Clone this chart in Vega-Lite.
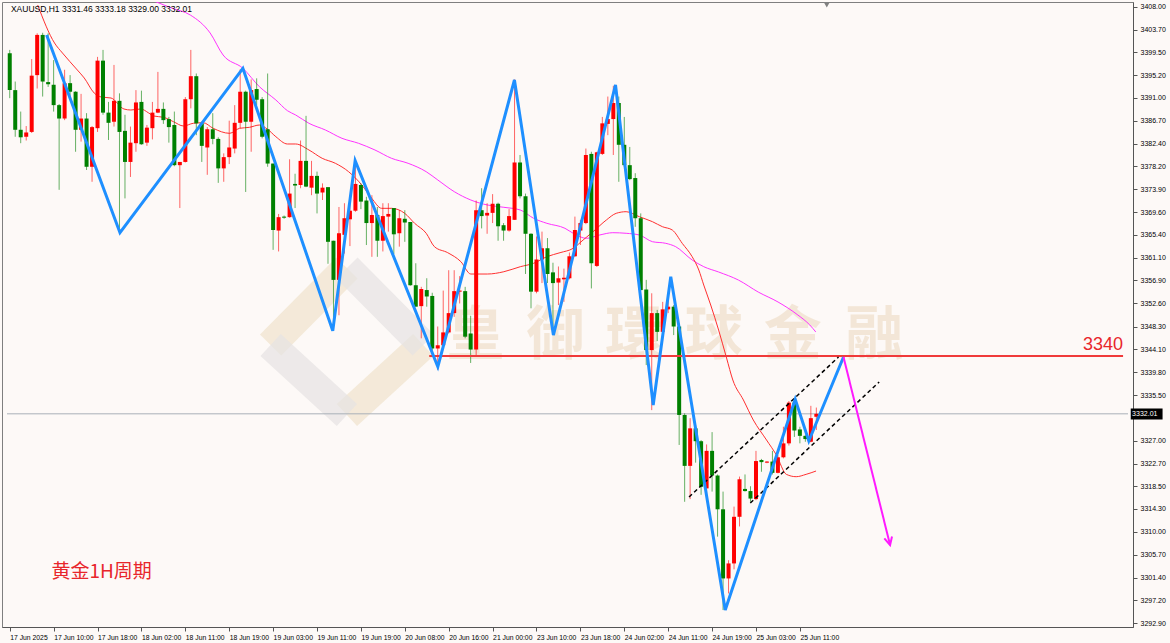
{
"$schema": "https://vega.github.io/schema/vega-lite/v6.json",
"width": 1131, "height": 625, "autosize": "none",
"padding": {"left": 2, "top": 2, "right": 37, "bottom": 16},
"background": "#fdf9f7",
"config": {"view": {"stroke": "#7f7f7f", "strokeWidth": 1}, "axis": {"domainColor": "#555555", "tickColor": "#555555", "labelColor": "#000000", "grid": false}},
"datasets": {
"candles": [
{"i":0,"o":3399.3,"h":3399.9,"l":3390.9,"c":3392.4},
{"i":1,"o":3392.4,"h":3394.0,"l":3383.7,"c":3385.0},
{"i":2,"o":3385.0,"h":3388.4,"l":3382.5,"c":3383.6},
{"i":3,"o":3383.7,"h":3385.7,"l":3383.0,"c":3384.5},
{"i":4,"o":3384.6,"h":3398.2,"l":3384.4,"c":3395.1},
{"i":5,"o":3395.2,"h":3403.0,"l":3392.7,"c":3402.7},
{"i":6,"o":3402.7,"h":3403.1,"l":3391.2,"c":3394.0},
{"i":7,"o":3393.9,"h":3403.0,"l":3393.0,"c":3393.5},
{"i":8,"o":3393.4,"h":3398.0,"l":3388.4,"c":3389.6},
{"i":9,"o":3389.6,"h":3389.8,"l":3373.8,"c":3387.1},
{"i":10,"o":3387.1,"h":3396.2,"l":3386.8,"c":3393.7},
{"i":11,"o":3393.7,"h":3395.2,"l":3390.6,"c":3392.1},
{"i":12,"o":3392.1,"h":3392.2,"l":3380.9,"c":3385.0},
{"i":13,"o":3385.0,"h":3391.7,"l":3382.8,"c":3387.1},
{"i":14,"o":3387.1,"h":3388.1,"l":3377.5,"c":3378.1},
{"i":15,"o":3378.1,"h":3385.7,"l":3375.3,"c":3385.5},
{"i":16,"o":3385.3,"h":3398.6,"l":3384.6,"c":3397.9},
{"i":17,"o":3397.9,"h":3399.9,"l":3387.8,"c":3388.2},
{"i":18,"o":3388.2,"h":3390.2,"l":3383.1,"c":3386.3},
{"i":19,"o":3386.5,"h":3397.1,"l":3385.6,"c":3390.4},
{"i":20,"o":3390.4,"h":3391.8,"l":3366.3,"c":3384.6},
{"i":21,"o":3384.8,"h":3387.8,"l":3372.2,"c":3379.0},
{"i":22,"o":3379.0,"h":3385.6,"l":3376.2,"c":3382.6},
{"i":23,"o":3382.5,"h":3392.4,"l":3380.9,"c":3390.1},
{"i":24,"o":3390.2,"h":3392.3,"l":3382.2,"c":3382.3},
{"i":25,"o":3382.6,"h":3385.9,"l":3382.0,"c":3385.4},
{"i":26,"o":3385.3,"h":3390.2,"l":3383.2,"c":3388.2},
{"i":27,"o":3388.2,"h":3395.8,"l":3388.1,"c":3388.9},
{"i":28,"o":3388.9,"h":3390.1,"l":3386.1,"c":3386.8},
{"i":29,"o":3387.0,"h":3387.4,"l":3382.6,"c":3385.5},
{"i":30,"o":3385.9,"h":3388.4,"l":3378.2,"c":3378.4},
{"i":31,"o":3378.4,"h":3379.0,"l":3370.4,"c":3379.0},
{"i":32,"o":3379.0,"h":3391.1,"l":3378.9,"c":3390.7},
{"i":33,"o":3390.7,"h":3399.9,"l":3389.0,"c":3395.0},
{"i":34,"o":3395.0,"h":3395.5,"l":3384.0,"c":3386.2},
{"i":35,"o":3386.2,"h":3386.5,"l":3379.0,"c":3382.0},
{"i":36,"o":3381.7,"h":3385.5,"l":3376.6,"c":3385.1},
{"i":37,"o":3385.1,"h":3388.1,"l":3382.3,"c":3383.3},
{"i":38,"o":3383.3,"h":3383.6,"l":3375.1,"c":3377.8},
{"i":39,"o":3377.8,"h":3380.6,"l":3375.3,"c":3379.9},
{"i":40,"o":3379.9,"h":3386.7,"l":3378.6,"c":3381.7},
{"i":41,"o":3381.5,"h":3389.6,"l":3380.6,"c":3386.3},
{"i":42,"o":3386.3,"h":3396.3,"l":3385.3,"c":3392.1},
{"i":43,"o":3392.1,"h":3392.3,"l":3373.4,"c":3386.5},
{"i":44,"o":3386.5,"h":3394.4,"l":3380.9,"c":3392.4},
{"i":45,"o":3392.6,"h":3394.6,"l":3389.6,"c":3390.6},
{"i":46,"o":3390.7,"h":3391.1,"l":3383.4,"c":3383.7},
{"i":47,"o":3385.1,"h":3395.5,"l":3378.1,"c":3378.7},
{"i":48,"o":3378.7,"h":3378.7,"l":3362.6,"c":3366.3},
{"i":49,"o":3366.2,"h":3369.3,"l":3362.3,"c":3368.7},
{"i":50,"o":3368.8,"h":3369.0,"l":3368.4,"c":3368.6},
{"i":51,"o":3368.7,"h":3379.5,"l":3368.6,"c":3373.1},
{"i":52,"o":3374.9,"h":3376.8,"l":3370.4,"c":3374.6},
{"i":53,"o":3374.7,"h":3383.0,"l":3374.1,"c":3379.2},
{"i":54,"o":3379.2,"h":3387.6,"l":3374.3,"c":3374.4},
{"i":55,"o":3374.2,"h":3379.2,"l":3372.8,"c":3376.4},
{"i":56,"o":3376.4,"h":3377.2,"l":3369.4,"c":3373.1},
{"i":57,"o":3373.3,"h":3375.0,"l":3371.9,"c":3374.2},
{"i":58,"o":3374.3,"h":3374.3,"l":3360.0,"c":3364.1},
{"i":59,"o":3364.3,"h":3364.3,"l":3347.6,"c":3357.0},
{"i":60,"o":3357.0,"h":3370.6,"l":3350.4,"c":3365.7},
{"i":61,"o":3365.4,"h":3371.3,"l":3361.9,"c":3368.5},
{"i":62,"o":3368.3,"h":3372.5,"l":3363.3,"c":3369.9},
{"i":63,"o":3369.9,"h":3379.4,"l":3369.7,"c":3374.9},
{"i":64,"o":3374.7,"h":3375.0,"l":3370.2,"c":3371.6},
{"i":65,"o":3371.8,"h":3372.5,"l":3363.5,"c":3367.6},
{"i":66,"o":3367.6,"h":3372.8,"l":3361.3,"c":3369.1},
{"i":67,"o":3369.1,"h":3370.6,"l":3361.3,"c":3364.3},
{"i":68,"o":3364.3,"h":3371.3,"l":3362.3,"c":3368.9},
{"i":69,"o":3368.8,"h":3371.3,"l":3366.0,"c":3369.3},
{"i":70,"o":3370.4,"h":3370.4,"l":3361.8,"c":3365.5},
{"i":71,"o":3365.7,"h":3370.0,"l":3363.2,"c":3368.5},
{"i":72,"o":3368.4,"h":3370.0,"l":3364.1,"c":3367.7},
{"i":73,"o":3367.8,"h":3367.8,"l":3355.9,"c":3356.0},
{"i":74,"o":3356.0,"h":3360.1,"l":3352.0,"c":3352.0},
{"i":75,"o":3352.1,"h":3355.7,"l":3346.1,"c":3355.3},
{"i":76,"o":3355.1,"h":3357.3,"l":3352.0,"c":3353.9},
{"i":77,"o":3354.0,"h":3354.6,"l":3343.8,"c":3344.2},
{"i":78,"o":3344.2,"h":3348.3,"l":3340.2,"c":3344.8},
{"i":79,"o":3344.8,"h":3355.0,"l":3344.5,"c":3347.2},
{"i":80,"o":3347.2,"h":3358.8,"l":3347.0,"c":3350.8},
{"i":81,"o":3350.8,"h":3358.8,"l":3350.1,"c":3354.9},
{"i":82,"o":3354.8,"h":3357.7,"l":3352.6,"c":3355.0},
{"i":83,"o":3354.9,"h":3355.7,"l":3346.1,"c":3346.4},
{"i":84,"o":3347.0,"h":3350.3,"l":3341.5,"c":3344.0},
{"i":85,"o":3344.0,"h":3371.8,"l":3342.8,"c":3370.0},
{"i":86,"o":3370.0,"h":3374.1,"l":3366.6,"c":3368.9},
{"i":87,"o":3369.0,"h":3371.3,"l":3365.6,"c":3369.5},
{"i":88,"o":3369.5,"h":3373.0,"l":3367.6,"c":3371.2},
{"i":89,"o":3371.2,"h":3371.4,"l":3364.3,"c":3367.0},
{"i":90,"o":3367.2,"h":3367.6,"l":3364.3,"c":3366.2},
{"i":91,"o":3366.2,"h":3370.2,"l":3366.0,"c":3368.9},
{"i":92,"o":3368.2,"h":3394.4,"l":3368.2,"c":3378.9},
{"i":93,"o":3378.9,"h":3380.3,"l":3372.2,"c":3372.6},
{"i":94,"o":3372.6,"h":3373.1,"l":3358.1,"c":3365.6},
{"i":95,"o":3365.6,"h":3365.7,"l":3351.7,"c":3354.8},
{"i":96,"o":3354.8,"h":3365.1,"l":3354.5,"c":3360.8},
{"i":97,"o":3360.8,"h":3366.0,"l":3356.4,"c":3362.9},
{"i":98,"o":3362.9,"h":3364.8,"l":3356.4,"c":3358.1},
{"i":99,"o":3358.4,"h":3360.2,"l":3346.7,"c":3356.4},
{"i":100,"o":3356.5,"h":3359.5,"l":3352.3,"c":3357.3},
{"i":101,"o":3357.1,"h":3359.1,"l":3352.9,"c":3357.4},
{"i":102,"o":3357.3,"h":3362.1,"l":3357.1,"c":3361.4},
{"i":103,"o":3361.4,"h":3368.8,"l":3361.3,"c":3366.3},
{"i":104,"o":3366.2,"h":3368.2,"l":3363.5,"c":3367.6},
{"i":105,"o":3367.6,"h":3381.5,"l":3367.4,"c":3380.3},
{"i":106,"o":3380.5,"h":3380.9,"l":3355.4,"c":3360.1},
{"i":107,"o":3359.6,"h":3380.9,"l":3359.4,"c":3380.8},
{"i":108,"o":3380.5,"h":3387.4,"l":3380.3,"c":3386.2},
{"i":109,"o":3386.1,"h":3391.2,"l":3384.0,"c":3387.0},
{"i":110,"o":3387.0,"h":3393.2,"l":3380.3,"c":3390.0},
{"i":111,"o":3390.0,"h":3391.2,"l":3375.3,"c":3382.2},
{"i":112,"o":3382.2,"h":3387.4,"l":3378.1,"c":3378.4},
{"i":113,"o":3378.4,"h":3381.8,"l":3375.6,"c":3375.8},
{"i":114,"o":3376.0,"h":3376.9,"l":3366.9,"c":3368.5},
{"i":115,"o":3368.5,"h":3369.4,"l":3355.0,"c":3355.1},
{"i":116,"o":3355.2,"h":3357.0,"l":3341.1,"c":3343.9},
{"i":117,"o":3343.9,"h":3354.5,"l":3332.7,"c":3350.8},
{"i":118,"o":3350.8,"h":3351.4,"l":3345.6,"c":3347.3},
{"i":119,"o":3347.3,"h":3352.9,"l":3347.0,"c":3351.5},
{"i":120,"o":3351.5,"h":3353.9,"l":3350.8,"c":3352.0},
{"i":121,"o":3352.0,"h":3352.3,"l":3346.7,"c":3348.3},
{"i":122,"o":3348.3,"h":3348.3,"l":3326.2,"c":3331.8},
{"i":123,"o":3331.8,"h":3332.1,"l":3315.6,"c":3322.3},
{"i":124,"o":3322.3,"h":3331.2,"l":3316.1,"c":3329.3},
{"i":125,"o":3329.3,"h":3329.9,"l":3322.9,"c":3326.9},
{"i":126,"o":3326.9,"h":3327.1,"l":3316.9,"c":3318.4},
{"i":127,"o":3318.1,"h":3326.3,"l":3316.9,"c":3325.1},
{"i":128,"o":3325.1,"h":3328.6,"l":3317.5,"c":3320.5},
{"i":129,"o":3320.5,"h":3320.7,"l":3309.1,"c":3314.2},
{"i":130,"o":3314.2,"h":3317.5,"l":3295.4,"c":3301.3},
{"i":131,"o":3301.3,"h":3304.7,"l":3298.5,"c":3304.1},
{"i":132,"o":3304.1,"h":3314.7,"l":3303.0,"c":3312.8},
{"i":133,"o":3312.8,"h":3320.3,"l":3311.0,"c":3319.8},
{"i":134,"o":3318.0,"h":3320.7,"l":3317.5,"c":3317.6},
{"i":135,"o":3317.6,"h":3318.5,"l":3315.6,"c":3316.2},
{"i":136,"o":3316.1,"h":3325.1,"l":3315.9,"c":3323.2},
{"i":137,"o":3323.4,"h":3323.6,"l":3321.2,"c":3323.0},
{"i":138,"o":3322.9,"h":3323.2,"l":3322.8,"c":3323.1},
{"i":139,"o":3323.1,"h":3325.1,"l":3320.7,"c":3321.0},
{"i":140,"o":3321.0,"h":3324.3,"l":3320.9,"c":3323.9},
{"i":141,"o":3323.9,"h":3329.6,"l":3323.7,"c":3326.5},
{"i":142,"o":3326.5,"h":3334.4,"l":3326.1,"c":3334.1},
{"i":143,"o":3334.1,"h":3334.7,"l":3327.7,"c":3328.9},
{"i":144,"o":3329.1,"h":3329.6,"l":3326.5,"c":3327.9},
{"i":145,"o":3327.9,"h":3328.1,"l":3326.8,"c":3327.3},
{"i":146,"o":3326.8,"h":3333.5,"l":3326.7,"c":3331.2},
{"i":147,"o":3331.46,"h":3333.18,"l":3329.0,"c":3332.01}
],
"maRed": [
{"i":5.09,"p":3408.28},{"i":8.16,"p":3401.19},{"i":9.61,"p":3399.32},{"i":12.32,"p":3396.15},{"i":13.58,"p":3394.66},{"i":15.39,"p":3391.86},{"i":16.65,"p":3391.12},{"i":18.46,"p":3390.93},{"i":20.81,"p":3388.88},{"i":22.07,"p":3388.69},{"i":23.88,"p":3388.88},{"i":25.33,"p":3388.13},{"i":26.23,"p":3387.57},{"i":28.04,"p":3387.33},{"i":29.84,"p":3386.51},{"i":31.65,"p":3385.71},{"i":33.45,"p":3386.21},{"i":35.26,"p":3386.32},{"i":37.07,"p":3385.28},{"i":40.08,"p":3384.34},{"i":41.89,"p":3385.28},{"i":43.7,"p":3385.46},{"i":45.5,"p":3385.89},{"i":47.0,"p":3385.09},{"i":48.5,"p":3383.71},{"i":50.61,"p":3382.35},{"i":52.11,"p":3382.35},{"i":54.53,"p":3381.23},{"i":56.94,"p":3379.68},{"i":59.34,"p":3378.75},{"i":61.76,"p":3377.18},{"i":64.16,"p":3374.7},{"i":65.97,"p":3372.22},{"i":67.77,"p":3370.35},{"i":69.58,"p":3370.35},{"i":71.98,"p":3369.42},{"i":73.79,"p":3367.55},{"i":75.9,"p":3365.69},{"i":77.4,"p":3363.19},{"i":79.82,"p":3362.07},{"i":82.22,"p":3360.39},{"i":84.03,"p":3358.09},{"i":87.05,"p":3358.09},{"i":90.05,"p":3358.52},{"i":93.06,"p":3359.46},{"i":95.47,"p":3360.09},{"i":97.89,"p":3361.32},{"i":100.29,"p":3362.07},{"i":102.69,"p":3362.89},{"i":104.5,"p":3364.44},{"i":106.31,"p":3365.99},{"i":108.73,"p":3368.17},{"i":110.53,"p":3369.42},{"i":112.34,"p":3369.72},{"i":114.74,"p":3368.78},{"i":117.14,"p":3367.85},{"i":118.95,"p":3366.92},{"i":120.75,"p":3366.3},{"i":122.56,"p":3363.82},{"i":124.37,"p":3361.32},{"i":125.58,"p":3358.84},{"i":126.48,"p":3356.04},{"i":127.75,"p":3352.31},{"i":129.19,"p":3347.64},{"i":130.64,"p":3342.42},{"i":131.78,"p":3338.32},{"i":133.71,"p":3334.59},{"i":135.51,"p":3330.86},{"i":137.92,"p":3327.13},{"i":139.72,"p":3324.32},{"i":141.53,"p":3320.72},{"i":143.33,"p":3320.28},{"i":145.14,"p":3320.72},{"i":146.95,"p":3321.34}
],
"maPink": [
{"i":26.26,"p":3409.03},{"i":29.48,"p":3407.72},{"i":32.91,"p":3406.41},{"i":36.52,"p":3403.06},{"i":38.88,"p":3398.95},{"i":42.49,"p":3396.47},{"i":45.5,"p":3393.04},{"i":48.5,"p":3390.56},{"i":50.61,"p":3388.56},{"i":52.11,"p":3387.76},{"i":54.53,"p":3386.21},{"i":57.53,"p":3384.96},{"i":60.55,"p":3383.41},{"i":63.57,"p":3382.48},{"i":66.56,"p":3381.23},{"i":69.58,"p":3379.68},{"i":72.6,"p":3378.75},{"i":75.9,"p":3377.18},{"i":78.02,"p":3375.63},{"i":81.02,"p":3373.45},{"i":84.03,"p":3371.9},{"i":87.05,"p":3370.97},{"i":90.05,"p":3370.54},{"i":93.06,"p":3370.03},{"i":95.47,"p":3368.49},{"i":97.89,"p":3367.55},{"i":101.19,"p":3366.62},{"i":102.69,"p":3365.69},{"i":105.11,"p":3364.75},{"i":107.51,"p":3365.37},{"i":109.91,"p":3365.8},{"i":112.34,"p":3365.69},{"i":114.74,"p":3365.37},{"i":117.14,"p":3364.12},{"i":119.56,"p":3363.82},{"i":121.37,"p":3363.19},{"i":124.37,"p":3360.71},{"i":126.48,"p":3359.46},{"i":129.19,"p":3358.47},{"i":132.8,"p":3356.97},{"i":136.41,"p":3354.73},{"i":140.02,"p":3352.87},{"i":143.64,"p":3350.44},{"i":145.81,"p":3348.58},{"i":146.9,"p":3347.28}
],
"zigzag": [
{"k":1,"i":6.72,"p":3402.68},{"k":2,"i":20.09,"p":3365.8},{"k":3,"i":42.49,"p":3396.47},{"k":4,"i":58.87,"p":3347.51},{"k":5,"i":62.95,"p":3379.23},{"k":6,"i":78.02,"p":3340.8},{"k":7,"i":91.98,"p":3394.29},{"k":8,"i":99.08,"p":3346.71},{"k":9,"i":110.4,"p":3393.36},{"k":10,"i":117.27,"p":3333.65},{"k":11,"i":120.47,"p":3357.59},{"k":12,"i":130.4,"p":3295.41},{"k":13,"i":143.15,"p":3334.72},{"k":14,"i":145.63,"p":3326.94},{"k":15,"i":151.95,"p":3342.61}
],
"channel": [
{"g":"upper","k":1,"i":123.8,"p":3316.49},{"g":"upper","k":2,"i":151.05,"p":3342.61},
{"g":"lower","k":1,"i":134.97,"p":3315.37},{"g":"lower","k":2,"i":158.45,"p":3337.95}
],
"arrow": [{"k":1,"i":151.95,"p":3342.61},{"k":2,"i":160.44,"p":3307.53}],
"arrowHead": [{"i":160.44,"p":3307.53}],
"level": [{"i":76.45,"i2":202.9,"p":3342.8,"t":"3340"}],
"last": [{"i":-0.5,"i2":203.8,"p":3332.01,"t":"3332.01"}],
"logoBeige": [{"g":"a","i":47.54,"p":3344.85},{"g":"a","i":61.45,"p":3359.21},{"g":"b","i":61.45,"p":3331.79},{"g":"b","i":75.36,"p":3344.85}],
"logoGray": [{"g":"a","i":61.45,"p":3359.21},{"g":"a","i":75.36,"p":3344.85},{"g":"b","i":47.54,"p":3344.85},{"g":"b","i":61.45,"p":3331.79}],
"watermark": [{"i":84.9,"p":3346.3,"t":"皇"},{"i":99.4,"p":3346.3,"t":"御"},{"i":113.8,"p":3346.3,"t":"環"},{"i":128.3,"p":3346.3,"t":"球"},{"i":142.7,"p":3346.3,"t":"金"},{"i":157.6,"p":3346.3,"t":"融"}]
},
"layer": [
{"data": {"name": "candles"}, "mark": {"type": "rule", "strokeWidth": 1, "opacity": 0},
 "encoding": {"x": {"field": "i", "type": "quantitative", "scale": {"domain": [-0.5, 203.8], "nice": false, "zero": false},
   "axis": {"orient": "bottom", "title": null, "values": [0,8,16,24,32,40,48,56,64,72,80,88,96,104,112,120,128,136,144], "tickCount": 40, "labelExpr": "['17 Jun 2025','17 Jun 10:00','17 Jun 18:00','18 Jun 02:00','18 Jun 11:00','18 Jun 19:00','19 Jun 03:00','19 Jun 11:00','19 Jun 19:00','20 Jun 08:00','20 Jun 16:00','21 Jun 00:00','23 Jun 10:00','23 Jun 18:00','24 Jun 02:00','24 Jun 11:00','24 Jun 19:00','25 Jun 03:00','25 Jun 11:00'][round(datum.value/8)]", "labelAlign": "left", "labelFont": "Liberation Sans", "labelFontSize": 6.8, "labelPadding": 3, "tickSize": 4, "labelOverlap": false, "labelFlush": false, "labelBound": false}},
  "y": {"field": "l", "type": "quantitative", "scale": {"domain": [3292.24, 3408.84], "nice": false, "zero": false},
   "axis": {"orient": "right", "title": null, "tickCount": 40, "values": [3408.0,3403.7,3399.5,3395.2,3391.0,3386.7,3382.4,3378.2,3373.9,3369.6,3365.4,3361.1,3356.9,3352.6,3348.3,3344.1,3339.8,3335.5,3327.0,3322.7,3318.5,3314.3,3310.0,3305.7,3301.4,3297.2,3292.9], "format": ".2f", "labelFont": "Liberation Sans", "labelFontSize": 7, "labelPadding": 3, "tickSize": 4, "labelOverlap": false, "labelFlush": false, "labelBound": false}},
  "y2": {"field": "h"}}},
{"data": {"name": "logoBeige"}, "mark": {"type": "line", "strokeWidth": 30, "strokeCap": "butt", "color": "#f0e2cc", "opacity": 0.7},
 "encoding": {"x": {"field": "i", "type": "quantitative"},
  "y": {"field": "p", "type": "quantitative"},
  "detail": {"field": "g"}}},
{"data": {"name": "logoGray"}, "mark": {"type": "line", "strokeWidth": 30, "strokeCap": "butt", "color": "#e6e3e3", "opacity": 0.7},
 "encoding": {"x": {"field": "i", "type": "quantitative"},
  "y": {"field": "p", "type": "quantitative"},
  "detail": {"field": "g"}}},
{"data": {"name": "watermark"}, "mark": {"type": "text", "font": "Noto Sans CJK TC", "fontWeight": "bold", "fontSize": 58, "color": "#ecd8bd", "opacity": 0.55, "align": "center", "baseline": "middle"},
 "encoding": {"x": {"field": "i", "type": "quantitative"},
  "y": {"field": "p", "type": "quantitative"},
  "text": {"field": "t"}}},
{"data": {"name": "last"}, "mark": {"type": "rule", "color": "#a9b0b8", "strokeWidth": 1},
 "encoding": {"x": {"field": "i", "type": "quantitative"},
  "x2": {"field": "i2"},
  "y": {"field": "p", "type": "quantitative"}}},
{"data": {"name": "maPink"}, "mark": {"type": "line", "color": "#ff33ff", "strokeWidth": 1, "clip": true, "interpolate": "monotone"},
 "encoding": {"x": {"field": "i", "type": "quantitative"},
  "y": {"field": "p", "type": "quantitative"}}},
{"data": {"name": "maRed"}, "mark": {"type": "line", "color": "#ff3030", "strokeWidth": 1, "clip": true, "interpolate": "monotone"},
 "encoding": {"x": {"field": "i", "type": "quantitative"},
  "y": {"field": "p", "type": "quantitative"}}},
{"data": {"name": "candles"}, "mark": {"type": "rule", "strokeWidth": 1, "opacity": 0.6},
 "encoding": {"x": {"field": "i", "type": "quantitative"},
  "y": {"field": "l", "type": "quantitative"},
  "y2": {"field": "h"},
  "color": {"condition": {"test": "datum.c >= datum.o", "value": "#ff0000"}, "value": "#008000"}}},
{"data": {"name": "candles"}, "mark": {"type": "bar", "size": 4},
 "encoding": {"x": {"field": "i", "type": "quantitative"},
  "y": {"field": "o", "type": "quantitative"},
  "y2": {"field": "c"},
  "color": {"condition": {"test": "datum.c >= datum.o", "value": "#ff0000"}, "value": "#008000"}}},
{"data": {"name": "level"}, "mark": {"type": "rule", "color": "#f03a3a", "strokeWidth": 2},
 "encoding": {"x": {"field": "i", "type": "quantitative"},
  "x2": {"field": "i2"},
  "y": {"field": "p", "type": "quantitative"}}},
{"data": {"name": "level"}, "mark": {"type": "text", "color": "#e8262b", "fontSize": 18, "font": "Liberation Sans", "align": "right", "baseline": "bottom", "dy": -2},
 "encoding": {"x": {"field": "i2", "type": "quantitative"},
  "y": {"field": "p", "type": "quantitative"},
  "text": {"field": "t"}}},
{"data": {"name": "channel"}, "mark": {"type": "line", "color": "#000000", "strokeWidth": 1.5, "strokeDash": [4, 3]},
 "encoding": {"x": {"field": "i", "type": "quantitative"},
  "y": {"field": "p", "type": "quantitative"},
  "detail": {"field": "g"}, "order": {"field": "k"}}},
{"data": {"name": "zigzag"}, "mark": {"type": "line", "color": "#1e8fff", "strokeWidth": 3},
 "encoding": {"x": {"field": "i", "type": "quantitative"},
  "y": {"field": "p", "type": "quantitative"},
  "order": {"field": "k"}}},
{"data": {"name": "arrow"}, "mark": {"type": "line", "color": "#ff1aff", "strokeWidth": 2},
 "encoding": {"x": {"field": "i", "type": "quantitative"},
  "y": {"field": "p", "type": "quantitative"},
  "order": {"field": "k"}}},
{"data": {"name": "arrowHead"}, "mark": {"type": "point", "shape": "M -0.5 -1 L 0 0 L 0.5 -1", "filled": false, "stroke": "#ff1aff", "strokeWidth": 2, "size": 250, "angle": 346, "opacity": 1},
 "encoding": {"x": {"field": "i", "type": "quantitative"},
  "y": {"field": "p", "type": "quantitative"}}},
{"data": {"values": [{"i": 0.22, "p": 3407.5, "t": "XAUUSD,H1  3331.46 3333.18 3329.00 3332.01"}]}, "mark": {"type": "text", "fontSize": 8.5, "font": "Liberation Sans", "align": "left", "baseline": "middle", "color": "#000000"},
 "encoding": {"x": {"field": "i", "type": "quantitative"},
  "y": {"field": "p", "type": "quantitative"},
  "text": {"field": "t"}}},
{"data": {"values": [{"i": 7.6, "p": 3302.5, "t": "黄金1H周期"}]}, "mark": {"type": "text", "fontSize": 19, "font": "Noto Sans CJK SC", "align": "left", "baseline": "middle", "color": "#e8262b"},
 "encoding": {"x": {"field": "i", "type": "quantitative"},
  "y": {"field": "p", "type": "quantitative"},
  "text": {"field": "t"}}},
{"data": {"values": [{"i": 204.3, "i2": 210.1, "p": 3330.95, "p2": 3333.0}]}, "mark": {"type": "rect", "color": "#000000"},
 "encoding": {"x": {"field": "i", "type": "quantitative"},
  "x2": {"field": "i2"},
  "y": {"field": "p", "type": "quantitative"},
  "y2": {"field": "p2"}}},
{"data": {"values": [{"i": 204.55, "p": 3332.0, "t": "3332.01"}]}, "mark": {"type": "text", "fontSize": 7, "font": "Liberation Sans", "align": "left", "baseline": "middle", "color": "#ffffff"},
 "encoding": {"x": {"field": "i", "type": "quantitative"},
  "y": {"field": "p", "type": "quantitative"},
  "text": {"field": "t"}}},
{"data": {"values": [{"i": 148.9, "p": 3408.3}]}, "mark": {"type": "point", "shape": "triangle-down", "filled": true, "color": "#808080", "size": 35, "opacity": 1},
 "encoding": {"x": {"field": "i", "type": "quantitative"},
  "y": {"field": "p", "type": "quantitative"}}}
]
}
